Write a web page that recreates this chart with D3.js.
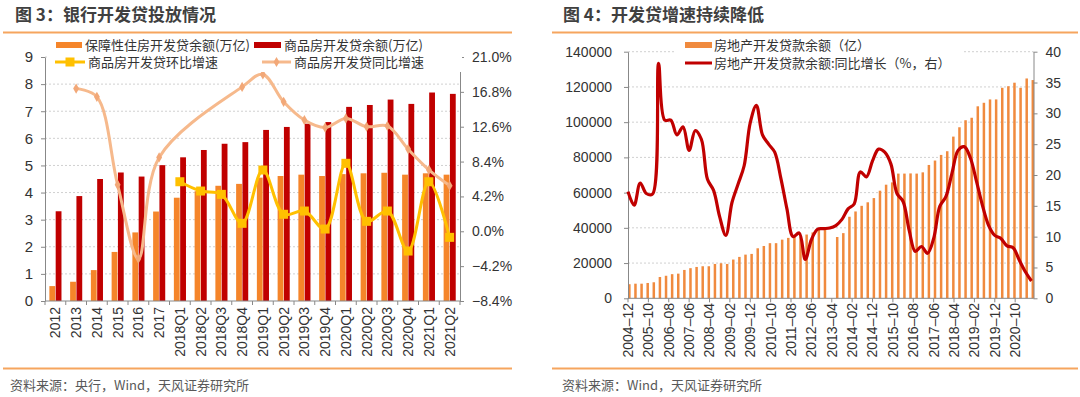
<!DOCTYPE html>
<html><head><meta charset="utf-8">
<script src="https://cdn.jsdelivr.net/npm/d3@7"></script>
<style>
body{margin:0;background:#fff;}
svg{display:block;font-family:"Liberation Sans","Noto Sans CJK SC",sans-serif;}
</style></head><body>
<svg id="c" width="1080" height="397"></svg>
<script>
// ---------- Figure 3 data ----------
const leftCategories = ["2012","2013","2014","2015","2016","2017","2018Q1","2018Q2","2018Q3","2018Q4","2019Q1","2019Q2","2019Q3","2019Q4","2020Q1","2020Q2","2020Q3","2020Q4","2021Q1","2021Q2"];
const affordableLoans = [0.55,0.71,1.14,1.81,2.53,3.30,3.81,4.05,4.25,4.32,4.55,4.61,4.66,4.61,4.68,4.71,4.73,4.66,4.71,4.66];
const commercialLoans = [3.31,3.87,4.50,4.74,4.59,5.01,5.30,5.57,5.80,5.86,6.31,6.42,6.54,6.60,7.16,7.23,7.43,7.27,7.69,7.64];
const qoqGrowth = [null,null,null,null,null,null,5.97,4.85,4.45,0.96,7.38,2.05,2.44,0.27,8.19,1.20,2.44,-2.38,5.97,-0.73];
const yoyGrowth = [null,17.2,16.2,5.6,-3.3,8.9,null,null,null,17.4,18.9,15.6,13.4,12.5,13.6,12.6,12.7,9.9,7.4,5.5];
const leftTicks = [0,1,2,3,4,5,6,7,8,9];
const rightTicks = [-8.4,-4.2,0,4.2,8.4,12.6,16.8,21.0];

// ---------- Figure 4 data (quarterly, from 2004-12) ----------
const loanStart = "2004-12";
const loanBalance = [8000,8300,8300,8700,9100,12100,12800,13700,14000,16100,17100,17800,18200,18200,19500,19900,19500,22000,23500,24800,25200,28400,29700,31300,31300,33300,34300,35100,35000,36200,37400,39000,39200,null,34800,37000,46300,49300,52500,54500,56900,61100,64500,65800,70800,70800,70900,70800,71500,75700,78200,81400,83500,91800,97100,101100,102500,109000,111000,112900,112900,119500,120400,122400,119500,124800,123900];
const loanGrowth = [17.3,15.1,18.7,17.0,16.9,38.1,28.9,28.9,26.5,27.8,24.0,27.2,25.8,19.3,17.5,13.2,10.2,15.5,18.5,21.5,28.5,31.3,26.5,25.0,23.7,19.5,14.5,10.0,10.6,6.3,9.5,11.2,11.3,11.4,11.8,12.8,14.5,15.3,20.5,19.7,22.3,24.2,23.7,21.8,17.0,15.7,11.0,7.6,8.4,7.3,9.7,14.9,16.5,20.3,24.0,24.6,22.8,19.0,15.0,11.8,10.2,9.7,8.5,8.2,6.2,4.3,2.8];
const loanTickLabels = ["2004-12","2005-10","2006-08","2007-06","2008-04","2009-02","2009-12","2010-10","2011-08","2012-06","2013-04","2014-02","2014-12","2015-10","2016-08","2017-06","2018-04","2019-02","2019-12","2020-10"];
const loanLeftTicks = [0,20000,40000,60000,80000,100000,120000,140000];
const loanRightTicks = [0,5,10,15,20,25,30,35,40];

// ---------- helpers ----------
const svg = d3.select("#c");
const TXT = "#333";
const AX = "#888";
const ORANGE = "#F5852A";
const RED = "#C00000";
const GOLD = "#FFC000";
const PEACH = "#F6B98C";
const RULE = "#F6A55E";
const monthIdx = s => { const [y,m] = s.split("-").map(Number); const [y0,m0] = loanStart.split("-").map(Number); return (y-y0)*12 + (m-m0); };

// ---------- headers / footers ----------
function frame(x, sx, title, source, ruleX0, ruleX1){
  svg.append("text").attr("x", x).attr("y", 21).attr("font-size", 17).attr("font-weight", "bold")
    .attr("fill", "#404040").attr("font-family", "'Noto Sans CJK SC',sans-serif").text(title);
  svg.append("line").attr("x1", ruleX0).attr("x2", ruleX1).attr("y1", 32.5).attr("y2", 32.5).attr("stroke", RULE).attr("stroke-width", 2);
  svg.append("line").attr("x1", ruleX0).attr("x2", ruleX1).attr("y1", 368.5).attr("y2", 368.5).attr("stroke", RULE).attr("stroke-width", 2);
  svg.append("text").attr("x", sx).attr("y", 390).attr("font-size", 13).attr("fill", "#595959")
    .attr("font-family", "'Noto Sans CJK SC',sans-serif").text(source);
}
frame(15, 10, "图 3：银行开发贷投放情况", "资料来源：央行，Wind，天风证券研究所", 3, 512);
frame(563, 562, "图 4：开发贷增速持续降低", "资料来源：Wind，天风证券研究所", 552, 1078);

// ================= Figure 3 =================
{
  const x0 = 45, x1 = 460, yTop = 57, yBot = 301;
  const xB = d3.scaleBand().domain(leftCategories).range([x0, x1]);
  const yL = d3.scaleLinear().domain([0, 9]).range([yBot, yTop]);
  const yR = d3.scaleLinear().domain([-8.4, 21]).range([yBot, yTop]);
  const cx = c => xB(c) + xB.bandwidth()/2;
  const g = svg.append("g");

  g.selectAll(".grid").data(leftTicks.slice(1)).join("line")
    .attr("x1", x0).attr("x2", x1).attr("y1", d => yL(d)).attr("y2", d => yL(d))
    .attr("stroke", "#d0d0d0").attr("stroke-dasharray", "2,2");

  g.selectAll(".ba").data(leftCategories).join("rect")
    .attr("x", c => cx(c) - 6).attr("width", 5.8)
    .attr("y", (c,i) => yL(affordableLoans[i])).attr("height", (c,i) => yBot - yL(affordableLoans[i]))
    .attr("fill", ORANGE);
  g.selectAll(".bc").data(leftCategories).join("rect")
    .attr("x", c => cx(c) + 0.3).attr("width", 5.8)
    .attr("y", (c,i) => yL(commercialLoans[i])).attr("height", (c,i) => yBot - yL(commercialLoans[i]))
    .attr("fill", RED);

  // axes
  const la = g.append("g").attr("transform", `translate(${x0},0)`)
    .call(d3.axisLeft(yL).tickValues(leftTicks).tickSize(4).tickSizeOuter(0).tickPadding(8));
  la.select(".domain").attr("stroke", AX);
  la.selectAll(".tick line").attr("stroke", AX);
  la.selectAll("text").attr("font-size", 15).attr("fill", TXT);

  const ra = g.append("g").attr("transform", `translate(${x1},0)`)
    .call(d3.axisRight(yR).tickValues(rightTicks).tickSize(4).tickSizeOuter(0).tickPadding(8).tickFormat(d => d3.format(".1f")(d) + "%"));
  ra.select(".domain").attr("stroke", AX);
  ra.selectAll(".tick line").attr("stroke", AX);
  ra.selectAll("text").attr("font-size", 14).attr("fill", TXT);

  g.append("line").attr("x1", x0).attr("x2", x1).attr("y1", yBot).attr("y2", yBot).attr("stroke", AX);
  g.selectAll(".xt").data(leftCategories.concat([null])).join("line")
    .attr("x1", c => c === null ? x1 : xB(c)).attr("x2", c => c === null ? x1 : xB(c))
    .attr("y1", yBot).attr("y2", yBot + 4).attr("stroke", AX);
  g.selectAll(".xl").data(leftCategories).join("text")
    .attr("transform", c => `translate(${cx(c)},307) rotate(-90)`)
    .attr("text-anchor", "end").attr("dy", "0.35em").attr("font-size", 14).attr("fill", TXT).text(c => c);

  // lines
  const yoyData = leftCategories.map((c,i) => ({c, v: yoyGrowth[i]})).filter(d => d.v !== null);
  const qoqData = leftCategories.map((c,i) => ({c, v: qoqGrowth[i]})).filter(d => d.v !== null);
  const line = d3.line().x(d => cx(d.c)).y(d => yR(d.v)).curve(d3.curveCatmullRom.alpha(0.5));
  g.append("path").attr("d", line(yoyData)).attr("fill", "none").attr("stroke", PEACH).attr("stroke-width", 3);
  g.selectAll(".ym").data(yoyData).join("path")
    .attr("transform", d => `translate(${cx(d.c)},${yR(d.v)})`)
    .attr("d", d3.symbol(d3.symbolDiamond, 30)).attr("fill", "#F2A878");
  g.append("path").attr("d", line(qoqData)).attr("fill", "none").attr("stroke", GOLD).attr("stroke-width", 3);
  g.selectAll(".qm").data(qoqData).join("rect")
    .attr("x", d => cx(d.c) - 4.5).attr("y", d => yR(d.v) - 4.5).attr("width", 9).attr("height", 9).attr("fill", GOLD);

  // legend
  const lg = g.append("g").attr("font-size", 13).attr("fill", TXT).attr("font-family", "'Noto Sans CJK SC',sans-serif");
  lg.append("rect").attr("x", 48).attr("y", 36).attr("width", 414).attr("height", 36).attr("fill", "#fff");
  lg.append("rect").attr("x", 56).attr("y", 42).attr("width", 26).attr("height", 6).attr("fill", ORANGE);
  lg.append("text").attr("x", 85).attr("y", 49.5).text("保障性住房开发贷余额(万亿)");
  lg.append("rect").attr("x", 254).attr("y", 42).attr("width", 27).attr("height", 6).attr("fill", RED);
  lg.append("text").attr("x", 284).attr("y", 49.5).text("商品房开发贷余额(万亿)");
  lg.append("line").attr("x1", 55).attr("x2", 85).attr("y1", 62).attr("y2", 62).attr("stroke", GOLD).attr("stroke-width", 3);
  lg.append("rect").attr("x", 65.5).attr("y", 57.5).attr("width", 9).attr("height", 9).attr("fill", GOLD);
  lg.append("text").attr("x", 88).attr("y", 67).text("商品房开发贷环比增速");
  lg.append("line").attr("x1", 262).attr("x2", 291).attr("y1", 62).attr("y2", 62).attr("stroke", PEACH).attr("stroke-width", 3);
  lg.append("path").attr("transform", "translate(276.5,62)").attr("d", d3.symbol(d3.symbolDiamond, 30)).attr("fill", "#F2A878");
  lg.append("text").attr("x", 294).attr("y", 67).text("商品房开发贷同比增速");
}

// ================= Figure 4 =================
{
  const x0 = 628, x1 = 1033.5, yTop = 51.7, yBot = 298.3;
  const s0 = monthIdx(loanStart);
  const qIdx = loanBalance.map((v,i) => s0 + i*3);
  const xs = d3.scaleLinear().domain([0, 199]).range([x0, x1]);
  const yl = d3.scaleLinear().domain([0, 140000]).range([yBot, yTop]);
  const yr = d3.scaleLinear().domain([0, 40]).range([yBot, yTop]);
  const g = svg.append("g");

  g.selectAll(".grid").data(loanLeftTicks.slice(1)).join("line")
    .attr("x1", x0).attr("x2", x1).attr("y1", d => yl(d)).attr("y2", d => yl(d))
    .attr("stroke", "#d0d0d0").attr("stroke-dasharray", "2,2");

  const bars = loanBalance.map((v,i) => ({m: qIdx[i], v})).filter(d => d.v !== null);
  g.selectAll(".b").data(bars).join("rect")
    .attr("x", d => xs(d.m) + 0.1).attr("width", 2.5)
    .attr("y", d => yl(d.v)).attr("height", d => yBot - yl(d.v)).attr("fill", "#F08A3E");

  const la = g.append("g").attr("transform", `translate(${x0},0)`)
    .call(d3.axisLeft(yl).tickValues(loanLeftTicks).tickSize(4).tickSizeOuter(0).tickPadding(12).tickFormat(d3.format("d")));
  la.select(".domain").attr("stroke", AX);
  la.selectAll(".tick line").attr("stroke", AX);
  la.selectAll("text").attr("font-size", 14).attr("fill", TXT);

  const ra = g.append("g").attr("transform", `translate(${x1},0)`)
    .call(d3.axisRight(yr).tickValues(loanRightTicks).tickSize(4).tickSizeOuter(0).tickPadding(8));
  ra.select(".domain").attr("stroke", AX);
  ra.selectAll(".tick line").attr("stroke", AX);
  ra.selectAll("text").attr("font-size", 14).attr("fill", TXT);

  g.append("line").attr("x1", x0).attr("x2", x1).attr("y1", yBot).attr("y2", yBot).attr("stroke", AX);
  g.selectAll(".xt").data(loanTickLabels).join("line")
    .attr("x1", d => xs(monthIdx(d))).attr("x2", d => xs(monthIdx(d)))
    .attr("y1", yBot).attr("y2", yBot + 4).attr("stroke", AX);
  g.selectAll(".xl").data(loanTickLabels).join("text")
    .attr("transform", d => `translate(${xs(monthIdx(d))},303) rotate(-90)`)
    .attr("text-anchor", "end").attr("dy", "0.35em").attr("font-size", 14).attr("fill", TXT)
    .text(d => d.replace("-", "\u2013"));

  const pts = loanGrowth.map((v,i) => ({m: qIdx[i], v}));
  g.append("path").attr("d", d3.line().x(d => xs(d.m)).y(d => yr(d.v)).curve(d3.curveCatmullRom.alpha(0.5))(pts))
    .attr("fill", "none").attr("stroke", RED).attr("stroke-width", 3.2).attr("stroke-linejoin", "round");

  const lg = g.append("g").attr("font-size", 13).attr("fill", TXT).attr("font-family", "'Noto Sans CJK SC',sans-serif");
  lg.append("rect").attr("x", 676).attr("y", 36).attr("width", 287).attr("height", 39).attr("fill", "#fff");
  lg.append("rect").attr("x", 685).attr("y", 42).attr("width", 27).attr("height", 6).attr("fill", "#F08A3E");
  lg.append("text").attr("x", 714).attr("y", 50).text("房地产开发贷款余额（亿）");
  lg.append("line").attr("x1", 685).attr("x2", 712).attr("y1", 63).attr("y2", 63).attr("stroke", RED).attr("stroke-width", 3);
  lg.append("text").attr("x", 714).attr("y", 68).text("房地产开发贷款余额:同比增长（%，右）");
}
</script></body></html>
